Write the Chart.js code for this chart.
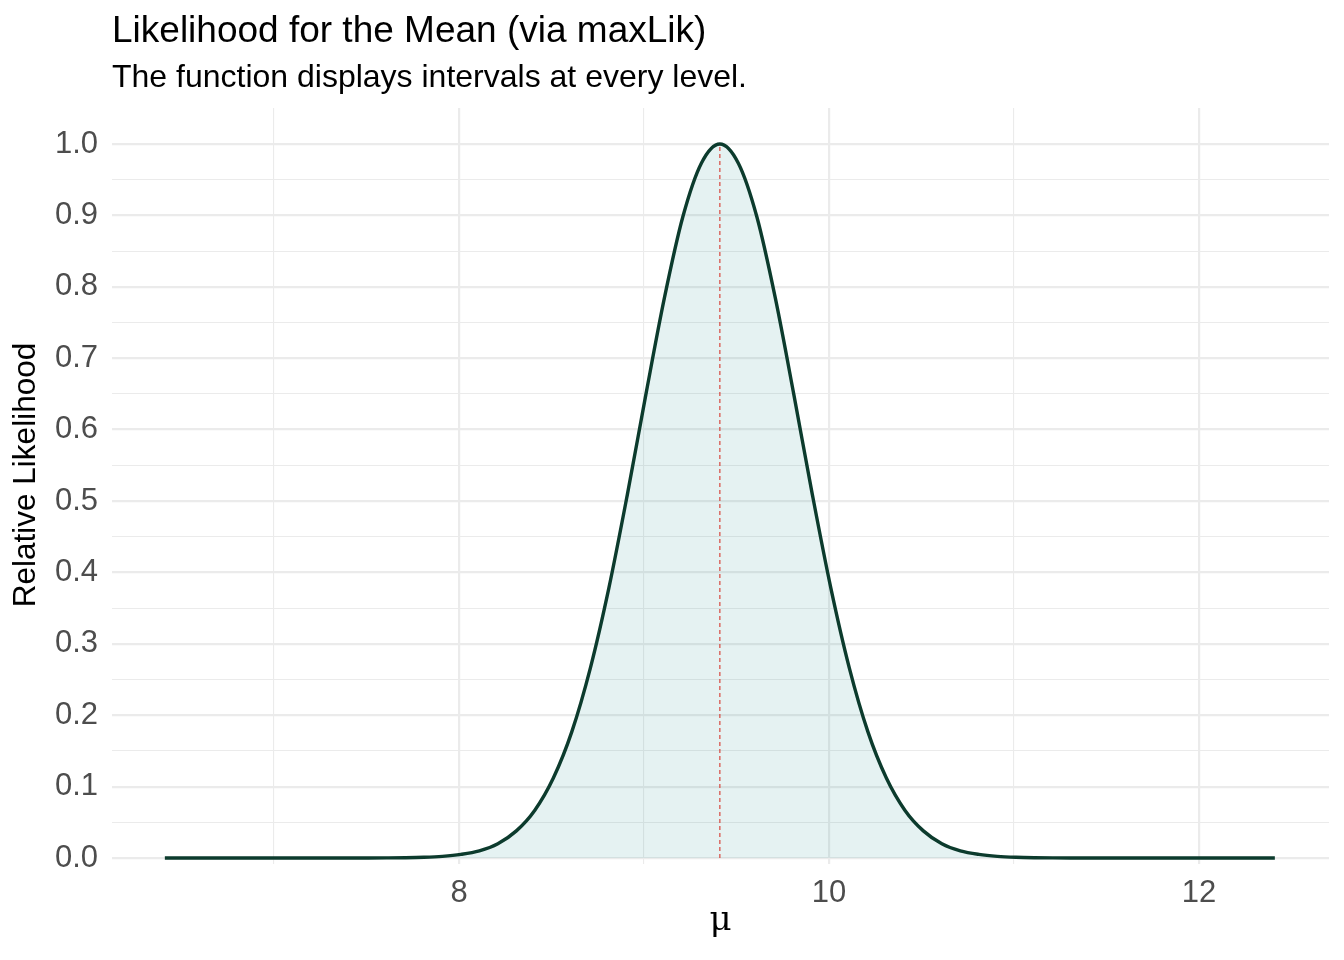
<!DOCTYPE html>
<html>
<head>
<meta charset="utf-8">
<script src="https://cdn.jsdelivr.net/npm/chart.js@4.4.1/dist/chart.umd.min.js"></script>
<style>
  html, body { margin: 0; padding: 0; background: #fff; }
  canvas { display: block; }
</style>
</head>
<body>
<canvas id="myChart" width="1344" height="960"></canvas>
<script>
// mu grid (x) and relative likelihood
const muValues = [
  6.41, 6.51, 6.61, 6.71, 6.81, 6.91, 7.01, 7.11, 7.21, 7.31,
  7.41, 7.51, 7.61, 7.71, 7.81, 7.91, 8.01, 8.11, 8.21, 8.31,
  8.41, 8.51, 8.61, 8.71, 8.81, 8.91, 9.01, 9.11, 9.21, 9.31,
  9.41,
  9.51, 9.61, 9.71, 9.81, 9.91, 10.01, 10.11, 10.21, 10.31, 10.41,
  10.51, 10.61, 10.71, 10.81, 10.91, 11.01, 11.11, 11.21, 11.31, 11.41,
  11.51, 11.61, 11.71, 11.81, 11.91, 12.01, 12.11, 12.21, 12.31, 12.41
];
const likValues = [
  0, 0, 0, 0, 0, 0, 0, 0, 0, 0,
  0, 0.00005, 0.00016, 0.0004, 0.001, 0.0023, 0.005, 0.010, 0.020, 0.038,
  0.067, 0.112, 0.177, 0.266, 0.378, 0.509, 0.649, 0.784, 0.898, 0.973,
  1.0,
  0.973, 0.898, 0.784, 0.649, 0.509, 0.378, 0.266, 0.177, 0.112, 0.067,
  0.038, 0.020, 0.010, 0.005, 0.0023, 0.001, 0.0004, 0.00016, 0.00005, 0,
  0, 0, 0, 0, 0, 0, 0, 0, 0, 0
];
const muHat = 9.41;
const xTicks = [7, 8, 9, 10, 11, 12];
const xLabelled = [8, 10, 12];
const yTicks = [0, 0.05, 0.1, 0.15, 0.2, 0.25, 0.3, 0.35, 0.4, 0.45, 0.5,
                0.55, 0.6, 0.65, 0.7, 0.75, 0.8, 0.85, 0.9, 0.95, 1.0];

const titleText = 'Likelihood for the Mean (via maxLik)';
const subtitleText = 'The function displays intervals at every level.';
const yTitleText = 'Relative Likelihood';
const xTitleText = 'μ';

const SANS = '"Liberation Sans", Arial, Helvetica, sans-serif';

const isMajorY = v => Math.abs(Math.round(v * 10) - v * 10) < 1e-6;

// titles and axis titles drawn by hand, ggplot-like placement
const textPlugin = {
  id: 'textPlugin',
  afterDraw: (chart) => {
    const { ctx, chartArea: { left, right } } = chart;
    ctx.save();
    ctx.fillStyle = '#000';
    ctx.textBaseline = 'alphabetic';
    ctx.textAlign = 'left';
    ctx.font = '37px ' + SANS;
    ctx.fillText(titleText, left, 42);
    ctx.font = '32px ' + SANS;
    ctx.fillText(subtitleText, left, 87);

    ctx.font = '31.5px ' + SANS;
    ctx.textAlign = 'center';
    ctx.translate(35, 475);
    ctx.rotate(-Math.PI / 2);
    ctx.fillText(yTitleText, 0, 0);
    ctx.restore();

    ctx.save();
    ctx.fillStyle = '#000';
    ctx.font = '34px "DejaVu Serif", "Liberation Serif", serif';
    ctx.textAlign = 'center';
    ctx.textBaseline = 'alphabetic';
    ctx.fillText(xTitleText, (left + right) / 2, 930);
    ctx.restore();
  }
};

const curve = muValues.map((m, i) => ({ x: m, y: likValues[i] }));

const config = {
  type: 'line',
  data: {
    datasets: [
      {
        data: curve,
        borderColor: '#0c3b2d',
        backgroundColor: 'rgba(0, 128, 128, 0.10)',
        borderWidth: 3.4,
        pointRadius: 0,
        fill: 'origin',
        cubicInterpolationMode: 'monotone',
      },
      {
        data: [{ x: muHat, y: 0 }, { x: muHat, y: 1 }],
        borderColor: 'rgba(240, 60, 50, 0.9)',
        borderWidth: 1.3,
        borderDash: [4, 3],
        pointRadius: 0,
        fill: false,
      }
    ]
  },
  options: {
    responsive: false,
    animation: false,
    devicePixelRatio: 1,
    layout: {
      padding: { top: 108, left: 0, right: 15, bottom: 0 }
    },
    scales: {
      x: {
        type: 'linear',
        min: 6.1243,
        max: 12.7027,
        afterFit: (scale) => { scale.height = 96; },
        afterBuildTicks: (scale) => { scale.ticks = xTicks.map(v => ({ value: v })); },
        border: { display: false },
        grid: {
          drawTicks: false,
          color: '#ebebeb',
          lineWidth: (c) => xLabelled.includes(c.tick && c.tick.value) ? 2.2 : 1.1,
        },
        ticks: {
          padding: 11,
          color: '#4d4d4d',
          font: { size: 31, family: SANS },
          maxRotation: 0,
          autoSkip: false,
          callback: (v) => xLabelled.includes(v) ? String(v) : '',
        }
      },
      y: {
        type: 'linear',
        min: -0.0084,
        max: 1.0504,
        afterFit: (scale) => { scale.width = 112; },
        afterBuildTicks: (scale) => { scale.ticks = yTicks.map(v => ({ value: v })); },
        border: { display: false },
        grid: {
          drawTicks: false,
          color: '#ebebeb',
          lineWidth: (c) => (c.tick && isMajorY(c.tick.value)) ? 2.2 : 1.1,
        },
        ticks: {
          padding: 14,
          color: '#4d4d4d',
          font: { size: 31, family: SANS },
          autoSkip: false,
          callback: (v) => isMajorY(v) ? v.toFixed(1) : '',
        }
      }
    },
    plugins: {
      legend: { display: false },
      tooltip: { enabled: false },
      title: { display: false },
    }
  },
  plugins: [textPlugin]
};

var myChart = new Chart(document.getElementById('myChart'), config);
</script>
</body>
</html>
